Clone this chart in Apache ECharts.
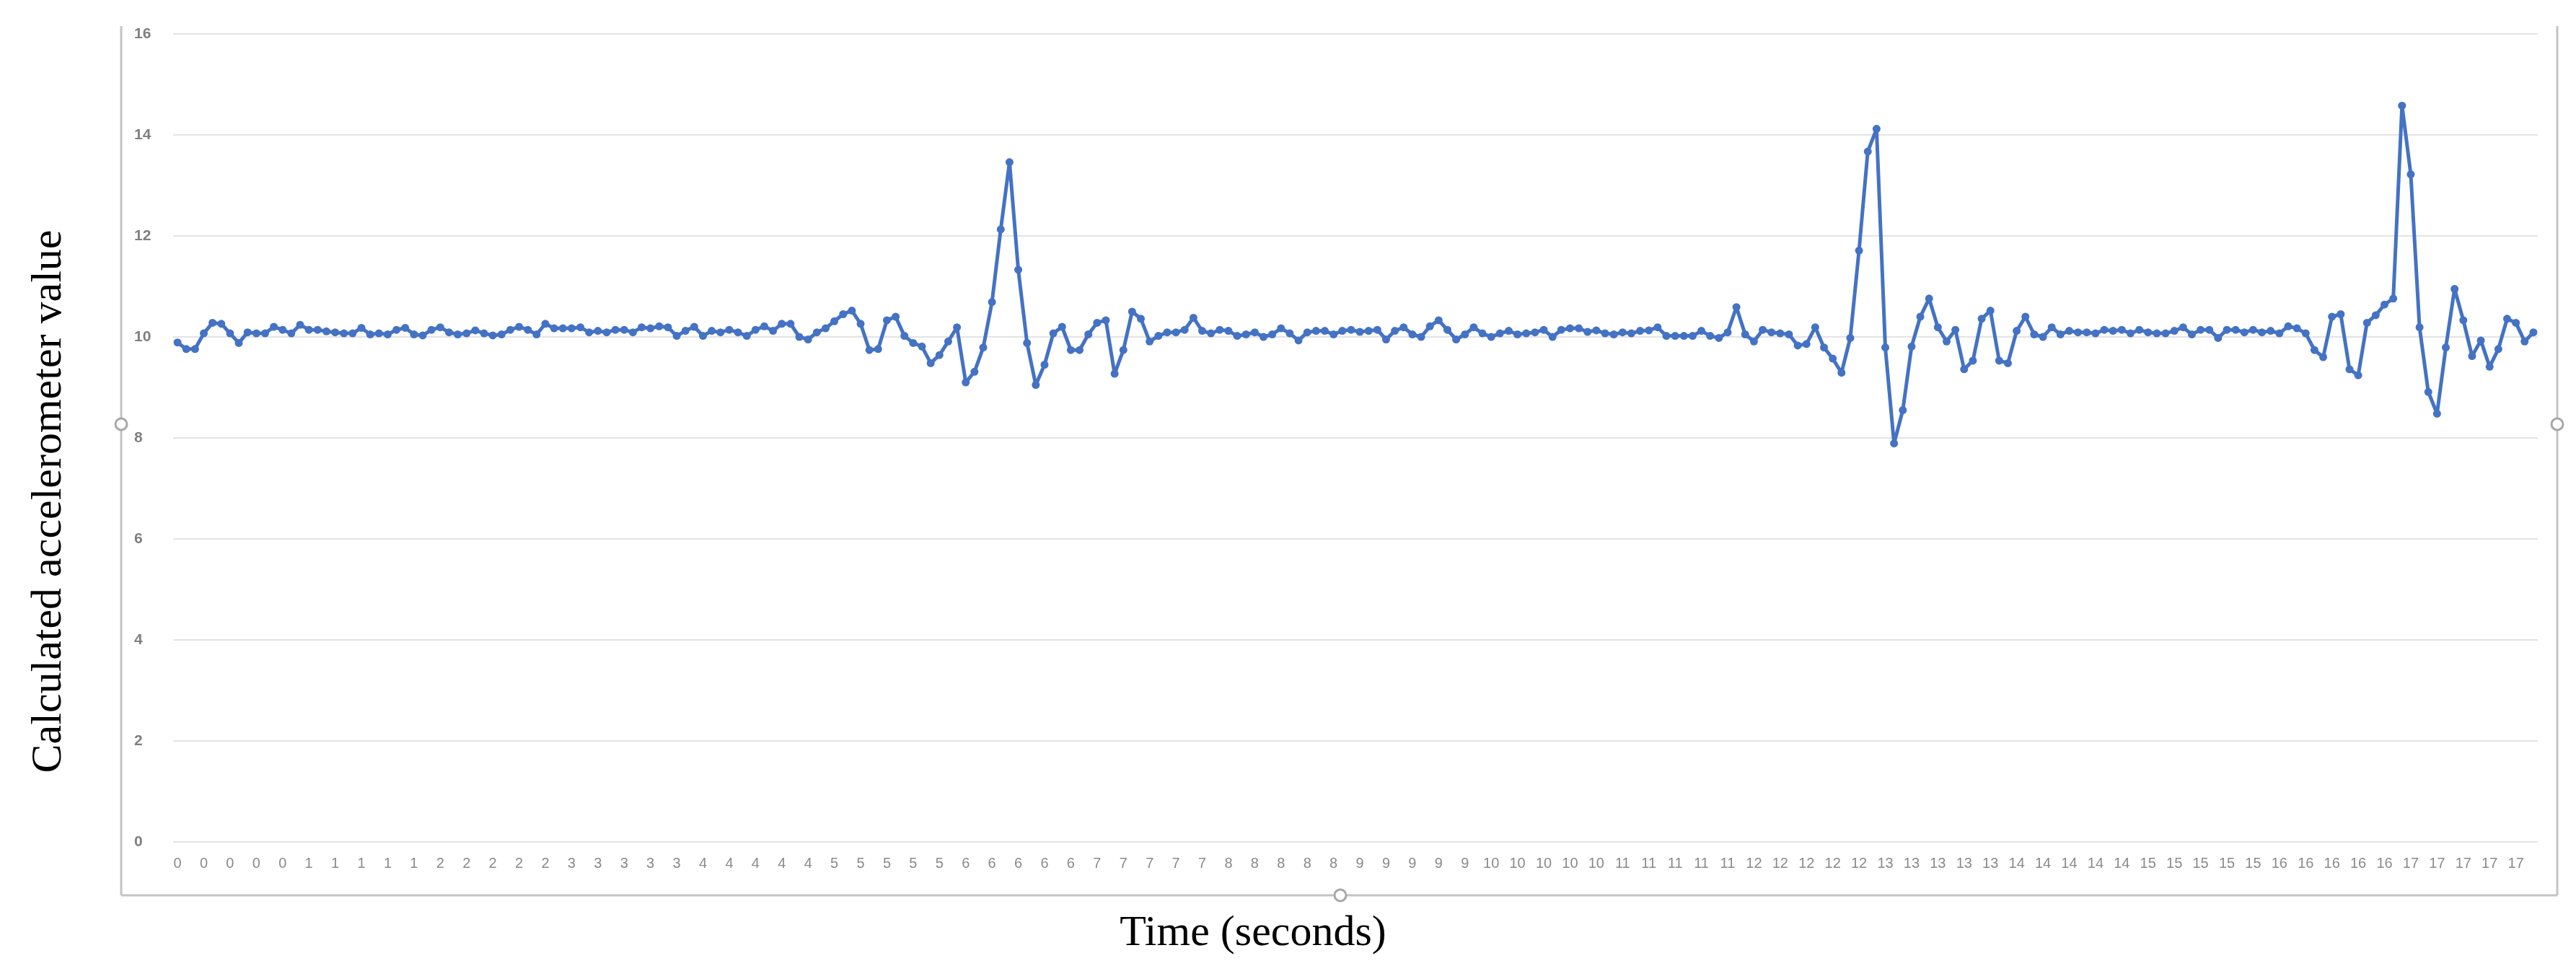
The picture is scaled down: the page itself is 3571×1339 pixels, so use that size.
<!DOCTYPE html>
<html><head><meta charset="utf-8">
<script src="https://cdn.jsdelivr.net/npm/echarts@6/dist/echarts.min.js"></script>
<style>html,body{margin:0;padding:0;background:#fff}#c{width:3571px;height:1339px}</style>
</head><body><div id="c"></div>
<script>
// Tick labels (whole seconds), 15 samples per second
const seconds = [0,1,2,3,4,5,6,7,8,9,10,11,12,13,14,15,16,17];
const samplesPerSecond = 15;
const yTicks = [0,2,4,6,8,10,12,14,16];

const values0 = [9.89,9.76,9.76,10.07,10.28,10.26,10.07,9.88,10.09,10.07,10.07,10.2,10.14,10.07,10.24,10.14,10.14,10.11,10.09,10.07,10.07,10.18,10.05,10.07,10.05,10.14,10.18,10.05,10.03,10.14,10.19,10.09,10.05,10.07,10.13,10.07,10.03,10.05,10.14,10.2,10.14,10.05,10.26,10.17,10.17];
const values1 = [10.17,10.19,10.09,10.12,10.09,10.14,10.14,10.09,10.19,10.17,10.21,10.19,10.02,10.12,10.2,10.02,10.12,10.09,10.14,10.09,10.02,10.14,10.21,10.12,10.26,10.26,10.0,9.95,10.09,10.17,10.31,10.45,10.52,10.26,9.74,9.76,10.33,10.4,10.02,9.88,9.81,9.48,9.64,9.91,10.19,9.1];
const values2 = [9.31,9.79,10.69,12.13,13.46,11.33,9.88,9.05,9.45,10.07,10.2,9.74,9.74,10.05,10.28,10.33,9.27,9.74,10.5,10.36,9.91,10.02,10.09,10.09,10.14,10.38,10.12,10.07,10.14,10.12,10.02,10.05,10.09,10.0,10.05,10.17,10.07,9.93,10.09,10.12,10.12,10.05,10.12,10.14,10.1];
const values3 = [10.12,10.14,9.95,10.12,10.19,10.05,10.0,10.21,10.33,10.14,9.95,10.05,10.19,10.07,10.0,10.07,10.12,10.05,10.07,10.09,10.14,10.0,10.14,10.17,10.17,10.1,10.13,10.07,10.05,10.09,10.07,10.12,10.13,10.19,10.02,10.02,10.02,10.02,10.12,10.02,9.98,10.09,10.59,10.05,9.91,10.14];
const values4 = [10.09,10.07,10.05,9.83,9.86,10.19,9.79,9.57,9.29,9.98,11.71,13.67,14.12,9.79,7.89,8.55,9.81,10.4,10.76,10.19,9.91,10.14,9.36,9.53,10.36,10.52,9.53,9.48,10.12,10.4,10.05,10.0,10.19,10.05,10.12,10.09,10.09,10.07,10.14,10.12,10.14,10.07,10.14,10.09,10.07];
const values5 = [10.07,10.12,10.19,10.05,10.14,10.14,9.98,10.14,10.14,10.09,10.14,10.09,10.12,10.07,10.21,10.17,10.07,9.74,9.6,10.4,10.45,9.36,9.24,10.28,10.43,10.64,10.76,14.58,13.22,10.19,8.91,8.48,9.79,10.95,10.33,9.62,9.93,9.41,9.76,10.36,10.28,9.91,10.09];

const values = [].concat(values0, values1, values2, values3, values4, values5);
const categories = [];
seconds.forEach(s => { for (let k = 0; k < samplesPerSecond; k++) categories.push(String(s)); });
const cats = categories.slice(0, values.length);

const chart = echarts.init(document.getElementById('c'), null, {renderer: 'canvas'});
const frame = '#c4c4c4';
chart.setOption({
  animation: false,
  backgroundColor: '#ffffff',
  grid: {left: 240, right: 53, top: 47, bottom: 172, containLabel: false},
  xAxis: {
    type: 'category', data: cats, boundaryGap: true,
    axisLine: {show: false}, axisTick: {show: false},
    axisLabel: {interval: 2, color: '#8a8a8a', fontSize: 20, fontFamily: 'Liberation Sans Narrow, Liberation Sans, sans-serif', margin: 20},
    splitLine: {show: false}
  },
  yAxis: {
    type: 'value', min: 0, max: 16, interval: 2,
    axisLine: {show: false}, axisTick: {show: false},
    axisLabel: {color: '#7f7f7f', fontSize: 21, fontWeight: 'bold', fontFamily: 'Liberation Sans, sans-serif', margin: 28, align: 'left', padding: [0,0,0,-26]},
    splitLine: {lineStyle: {color: '#e3e3e3', width: 2}}
  },
  series: [{
    type: 'line', data: values,
    lineStyle: {color: '#4472C4', width: 5},
    itemStyle: {color: '#4472C4'},
    symbol: 'circle', symbolSize: 11, showSymbol: true, showAllSymbol: true
  }],
  graphic: [
    {type: 'line', shape: {x1: 168, y1: 36, x2: 168, y2: 1241}, style: {stroke: frame, lineWidth: 3}},
    {type: 'line', shape: {x1: 168, y1: 1241, x2: 3545, y2: 1241}, style: {stroke: frame, lineWidth: 3}},
    {type: 'line', shape: {x1: 3545, y1: 36, x2: 3545, y2: 1241}, style: {stroke: frame, lineWidth: 3}},
    {type: 'circle', shape: {cx: 168, cy: 588, r: 8}, style: {fill: '#fff', stroke: '#a8a8a8', lineWidth: 3}},
    {type: 'circle', shape: {cx: 3545, cy: 588, r: 8}, style: {fill: '#fff', stroke: '#a8a8a8', lineWidth: 3}},
    {type: 'circle', shape: {cx: 1858, cy: 1241, r: 8}, style: {fill: '#fff', stroke: '#a8a8a8', lineWidth: 3}},
    {type: 'text', x: 68, y: 695, rotation: Math.PI / 2,
     style: {text: 'Calculated accelerometer value', font: '60px "Liberation Serif", serif', fill: '#000', textAlign: 'center', textVerticalAlign: 'middle'}},
    {type: 'text', x: 1737, y: 1294,
     style: {text: 'Time (seconds)', font: '60px "Liberation Serif", serif', fill: '#000', textAlign: 'center', textVerticalAlign: 'middle'}}
  ]
});
</script></body></html>
